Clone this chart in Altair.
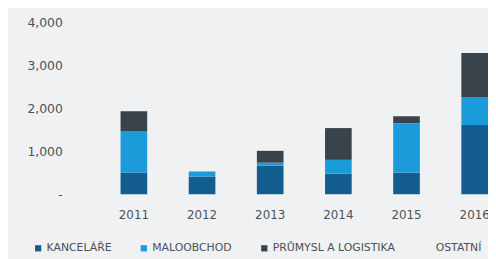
import altair as alt
import pandas as pd

years = ["2011", "2012", "2013", "2014", "2015", "2016"]
kancelare = [505, 410, 665, 480, 505, 1610]
maloobchod = [965, 120, 70, 320, 1150, 640]
prumysl = [460, 0, 275, 740, 160, 1035]
ostatni = [0, 0, 0, 0, 0, 0]
categories = ["KANCELÁŘE", "MALOOBCHOD", "PRŮMYSL A LOGISTIKA", "OSTATNÍ"]
colors = ["#135e8e", "#1c9bdb", "#3b434a", "#f0f1f2"]
y_ticks = [0, 1000, 2000, 3000, 4000]

series = [kancelare, maloobchod, prumysl, ostatni]
rows = []
for i, yr in enumerate(years):
    for k, (cat, vals) in enumerate(zip(categories, series)):
        rows.append({"rok": yr, "segment": cat, "hodnota": vals[i], "poradi": k})
df = pd.DataFrame(rows)

FONT = "DejaVu Sans"
TXT = "#4b5157"

chart = alt.Chart(df).mark_bar().encode(
    x=alt.X(
        "rok:N",
        sort=years,
        scale=alt.Scale(paddingInner=0.609, paddingOuter=0.391, align=1),
        axis=alt.Axis(
            title=None, labelAngle=0, domain=False, ticks=False,
            labelPadding=16, labelFontSize=12, labelColor=TXT, labelFont=FONT,
        ),
    ),
    y=alt.Y(
        "hodnota:Q",
        stack="zero",
        scale=alt.Scale(domain=[0, 4000], nice=False),
        axis=alt.Axis(
            title=None, values=y_ticks, format=",.0f",
            labelExpr="datum.value == 0 ? '-\u2007' : datum.label",
            domain=False, ticks=False, grid=False, labelPadding=5,
            labelFontSize=12.5, labelColor=TXT, labelFont=FONT,
        ),
    ),
    color=alt.Color(
        "segment:N",
        sort=categories,
        scale=alt.Scale(domain=categories, range=colors),
        legend=alt.Legend(
            title=None, orient="none", legendX=-35, legendY=223,
            direction="horizontal", symbolType="square", symbolSize=40,
            symbolStrokeWidth=0, labelFontSize=11, labelFont=FONT,
            labelColor=TXT, columnPadding=27, labelOffset=3, padding=0,
        ),
    ),
    order=alt.Order("poradi:Q", sort="ascending"),
).properties(
    width=426,
    height=174,
    autosize=alt.AutoSizeParams(type="none"),
    padding={"left": 60, "top": 13, "right": 0, "bottom": 64},
    background="#f0f1f2",
).configure_view(stroke=None)

chart.save("out.html", embed_options={"renderer": "svg", "actions": False})
